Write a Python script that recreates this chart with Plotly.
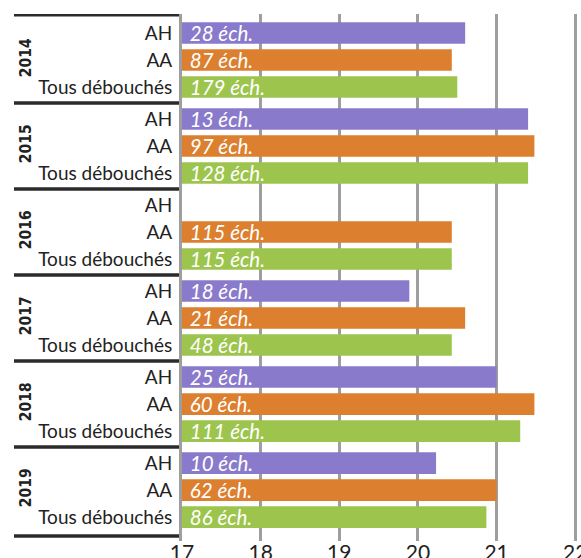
import plotly.graph_objects as go

years = ["2014", "2015", "2016", "2017", "2018", "2019"]
categories = ["AH", "AA", "Tous débouchés"]

ah_values = [20.6, 21.4, None, 19.89, 21.0, 20.23]
aa_values = [20.43, 21.48, 20.43, 20.6, 21.48, 21.0]
tous_values = [20.5, 21.4, 20.43, 20.43, 21.3, 20.87]

ah_counts = [28, 13, None, 18, 25, 10]
aa_counts = [87, 97, 115, 21, 60, 62]
tous_counts = [179, 128, 115, 48, 111, 86]

x_ticks = [17, 18, 19, 20, 21, 22]

colors = ["#8A7ACB", "#DC7F2F", "#9DC54E"]
BASE = 17
GROUP_PITCH = 3.185


def ypos(g, i):
    return -(g * GROUP_PITCH + i)


series = [ah_values, aa_values, tous_values]
counts = [ah_counts, aa_counts, tous_counts]

fig = go.Figure()
for i, (vals, cnts) in enumerate(zip(series, counts)):
    ys, xs, texts = [], [], []
    for g, (v, c) in enumerate(zip(vals, cnts)):
        if v is None:
            continue
        ys.append(ypos(g, i))
        xs.append(v - BASE)
        texts.append("\u00a0" + f"{c} éch.")
    fig.add_trace(go.Bar(
        y=ys, x=xs, base=BASE, orientation="h", width=0.8,
        marker=dict(color=colors[i], line=dict(width=0)),
        text=texts, textposition="inside", insidetextanchor="start",
        textangle=0, constraintext="none",
        textfont=dict(family="Lato", size=20.5, color="white", style="italic"),
        name=categories[i], showlegend=False, hoverinfo="skip",
        cliponaxis=False,
    ))

tickvals, ticktext = [], []
for g in range(len(years)):
    for i, c in enumerate(categories):
        tickvals.append(ypos(g, i))
        ticktext.append(c)

PLOT_W = 398
shapes = []
sep_ys = [0.68]
for g in range(len(years) - 1):
    sep_ys.append((ypos(g, 2) + ypos(g + 1, 0)) / 2)
sep_ys.append(ypos(len(years) - 1, 2) - 0.7)
for sy in sep_ys:
    shapes.append(dict(type="line", xref="paper", yref="y",
                       x0=-168 / PLOT_W, x1=-3 / PLOT_W, y0=sy, y1=sy,
                       line=dict(color="#2b2b2b", width=3.5)))

annotations = []
for g, yr in enumerate(years):
    annotations.append(dict(
        x=-156 / PLOT_W, xref="paper", y=ypos(g, 1) + 0.07, yref="y",
        text=f"<b>{yr}</b>", textangle=-90, showarrow=False,
        font=dict(family="DejaVu Sans Condensed, Lato", size=15.5, color="#222"),
        xanchor="center", yanchor="middle",
    ))

fig.update_layout(
    width=581, height=558,
    margin=dict(l=182, r=1, t=14, b=17, autoexpand=False),
    paper_bgcolor="white", plot_bgcolor="white",
    barmode="overlay",
    shapes=shapes, annotations=annotations,
    xaxis=dict(
        range=[17, 22.06], tickvals=x_ticks, ticktext=[str(t) for t in x_ticks],
        showgrid=True, gridcolor="#9e9e9e", gridwidth=3,
        zeroline=False, showline=False, ticks="", automargin=False,
        ticklabelstandoff=-3, ticklabeloverflow="allow",
        tickfont=dict(family="Lato", size=21, color="#222"),
    ),
    yaxis=dict(
        range=[-18.81, 0.704], tickvals=tickvals, ticktext=ticktext,
        showgrid=False, zeroline=False, automargin=False,
        showline=True, linecolor="#9e9e9e", linewidth=3,
        ticks="", ticklabelstandoff=3,
        tickfont=dict(family="Lato", size=19, color="#222"),
    ),
)

fig.write_html(
    "out.html",
    config={"displayModeBar": False},
    post_script="document.body.style.margin='0';document.body.style.overflow='hidden';",
)
